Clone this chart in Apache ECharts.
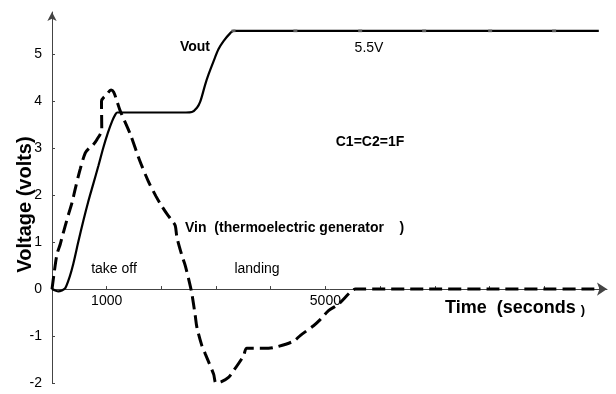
<!DOCTYPE html>
<html>
<head>
<meta charset="utf-8">
<script src="https://cdn.jsdelivr.net/npm/echarts@6/dist/echarts.min.js"></script>
<style>
  html, body { margin: 0; padding: 0; background: #fff; }
  #chart { width: 616px; height: 394px; }
</style>
</head>
<body>
<div id="chart"></div>
<script>
const FONT = '"Liberation Sans", Arial, sans-serif';

// Axis ranges, ticks and labels
const xMin = 0, xMax = 10150;
const yMin = -2, yMax = 5.9;
const xTickValues = [1000, 2000, 3000, 4000, 5000, 6000, 7000, 8000, 9000, 10000];
const xLabelValues = [1000, 5000];
const yTickValues = [-2, -1, 0, 1, 2, 3, 4, 5];

// Vout: storage output voltage (s, V)
const voutTime  = [0, 60, 115, 180, 243, 320, 390, 480, 572, 660, 755, 850, 938, 1020, 1102, 1160, 1194,
                   1500, 2000, 2450, 2559, 2651, 2711, 2803, 2863, 2954, 3046, 3137, 3260, 3320,
                   4000, 5000, 6000, 7000, 8000, 9000, 10000];
const voutVolts = [0, -0.03, -0.05, -0.03, 0.02, 0.25, 0.54, 1.0, 1.45, 1.85, 2.24, 2.63, 3.01, 3.32, 3.58, 3.72, 3.76,
                   3.76, 3.76, 3.76, 3.77, 3.86, 3.99, 4.36, 4.57, 4.85, 5.11, 5.28, 5.45, 5.5,
                   5.5, 5.5, 5.5, 5.5, 5.5, 5.5, 5.5];

// Sample markers on Vout
const voutMarkTime  = [3320, 4451, 5636, 6806, 8013, 9183];
const voutMarkVolts = [5.5, 5.5, 5.5, 5.5, 5.5, 5.5];

// Vin: thermoelectric generator voltage (s, V)
const vinTime  = [0, 40, 91, 152, 183, 243, 304, 366, 424, 517, 609, 680, 737, 820, 910,
                  905, 1005, 1080, 1126, 1188, 1249, 1431, 1600, 1760, 1900, 2000, 2102, 2200, 2254,
                  2285, 2377, 2437, 2528, 2560, 2620, 2651, 2742, 2803, 2955, 3000, 3100, 3228, 3320,
                  3503, 3565, 3960, 4113, 4417, 4539, 4783, 4905, 5057, 5240, 5453, 5550, 10000];
const vinVolts = [0, 0.35, 0.74, 0.96, 1.1, 1.35, 1.6, 1.84, 2.13, 2.56, 2.9, 3.0, 3.05, 3.18, 3.4,
                  4.0, 4.15, 4.24, 4.2, 4.0, 3.79, 3.3, 2.75, 2.3, 1.98, 1.78, 1.6, 1.45, 1.35,
                  1.1, 0.71, 0.5, 0.07, -0.11, -0.57, -0.82, -1.21, -1.38, -1.81, -2.0, -1.97, -1.88, -1.74,
                  -1.42, -1.26, -1.26, -1.23, -1.11, -0.99, -0.78, -0.65, -0.46, -0.32, -0.07, 0, 0];

const zip = (a, b) => a.map((v, i) => [v, b[i]]);

const axisColor = '#444';
const labelStyle = { fontSize: 14, color: '#000', fontFamily: FONT };

const grid = { left: 52, right: 9, top: 12, bottom: 11, outerBoundsMode: 'none', containLabel: false };
const plotHeight = 394 - grid.top - grid.bottom;
// lift the time axis from the grid bottom up to the 0 V level
const xAxisOffset = -((0 - yMin) / (yMax - yMin)) * plotHeight;

function note(text, x, y, opts) {
  opts = opts || {};
  return {
    type: 'text', x: x, y: y, silent: true, z: 10,
    style: {
      text: text,
      font: (opts.bold ? 'bold ' : '') + (opts.size || 14) + 'px ' + FONT,
      fill: '#000',
      align: opts.align || 'center',
      verticalAlign: 'middle'
    }
  };
}

const chart = echarts.init(document.getElementById('chart'), null, { renderer: 'canvas' });
chart.setOption({
  animation: false,
  backgroundColor: '#fff',
  grid: grid,
  xAxis: {
    type: 'value', min: xMin, max: xMax, offset: xAxisOffset,
    axisLine: { onZero: false, symbol: ['none', 'arrow'], symbolSize: [10, 10],
                lineStyle: { color: axisColor, width: 1 } },
    axisTick: { show: true, inside: true, length: 3, customValues: xTickValues,
                lineStyle: { color: axisColor } },
    axisLabel: Object.assign({ customValues: xLabelValues, margin: 5,
                               formatter: v => String(v) }, labelStyle),
    splitLine: { show: false }
  },
  yAxis: {
    type: 'value', min: yMin, max: yMax,
    axisLine: { show: true, onZero: false, symbol: ['none', 'arrow'], symbolSize: [7, 9],
                lineStyle: { color: axisColor, width: 1 } },
    axisTick: { show: true, inside: true, length: 3, customValues: yTickValues,
                lineStyle: { color: axisColor } },
    axisLabel: Object.assign({ customValues: yTickValues, margin: 10,
                               formatter: v => String(v) }, labelStyle),
    splitLine: { show: false },
    name: 'Voltage (volts)', nameLocation: 'middle', nameRotate: 90, nameGap: 17,
    nameMoveOverlap: false,
    nameTextStyle: { fontSize: 20, fontWeight: 'bold', fontFamily: FONT, color: '#000',
                     padding: [0, 14, 0, 0] }
  },
  series: [
    {
      name: 'Vout', type: 'line', data: zip(voutTime, voutVolts),
      showSymbol: false, smooth: 0.3, z: 3,
      lineStyle: { color: '#000', width: 2.2 }
    },
    {
      name: 'Vout samples', type: 'scatter', data: zip(voutMarkTime, voutMarkVolts),
      symbol: 'rect', symbolSize: [4, 3], z: 4,
      itemStyle: { color: '#777' }
    },
    {
      name: 'Vin', type: 'line', data: zip(vinTime, vinVolts),
      showSymbol: false, smooth: 0.3, z: 2,
      lineStyle: { color: '#000', width: 3, type: [13, 6] }
    }
  ],
  graphic: [
    note('Vout', 195, 47, { bold: true }),
    note('5.5V', 369, 48),
    note('C1=C2=1F', 370, 142, { bold: true }),
    note('Vin  (thermoelectric generator    )', 185, 228, { bold: true, align: 'left' }),
    note('take off', 114, 269),
    note('landing', 257, 269),
    {
      type: 'text', x: 445, y: 308, silent: true, z: 10,
      style: {
        text: '{a|Time  (seconds }{b|)}',
        verticalAlign: 'middle', align: 'left',
        rich: {
          a: { font: 'bold 18px ' + FONT, fill: '#000' },
          b: { font: 'bold 13px ' + FONT, fill: '#000', verticalAlign: 'bottom' }
        }
      }
    }
  ]
});
</script>
</body>
</html>
